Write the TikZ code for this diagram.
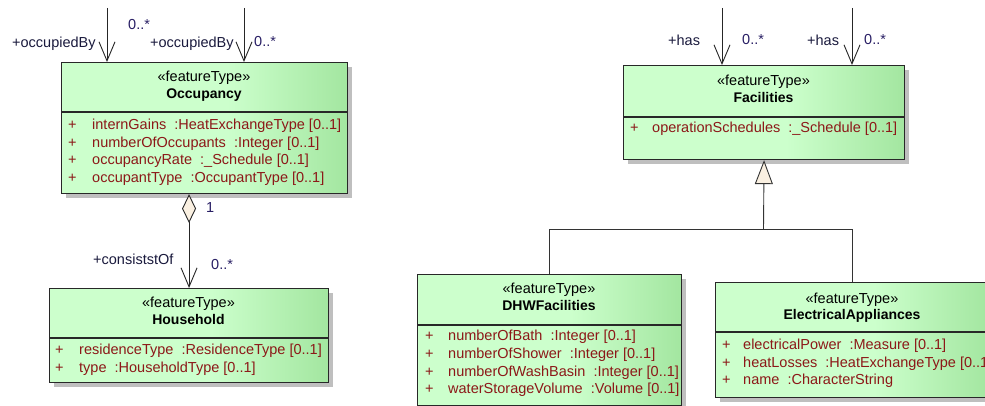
\documentclass[tikz,border=0pt]{standalone}
\usepackage{fontspec}
\setmainfont{Liberation Sans}
\usetikzlibrary{arrows.meta,shadows}
\definecolor{gA}{RGB}{204,255,204}
\definecolor{gB}{RGB}{163,230,160}
\definecolor{attrc}{RGB}{140,24,24}
\definecolor{lblc}{RGB}{25,25,60}
\definecolor{multc}{RGB}{40,30,100}
\definecolor{tipfill}{RGB}{250,240,225}
\definecolor{edgec}{RGB}{40,40,40}
\pgfdeclarehorizontalshading{boxgreen}{100bp}{color(0bp)=(gA); color(25bp)=(gA); color(54bp)=(gA); color(75bp)=(gB); color(100bp)=(gB)}
\begin{document}
\begin{tikzpicture}[x=1pt,y=-1pt,
  font=\fontsize{14.5}{17}\selectfont,
  cls/.style={draw=edgec, line width=1.1pt, shade, shading=boxgreen,
    drop shadow={shadow xshift=4pt, shadow yshift=-4pt, fill=black!25, opacity=1},
    anchor=north west, inner sep=0pt},
  divider/.style={draw=edgec, line width=1.1pt},
  stereo/.style={inner sep=0pt, anchor=mid},
  cname/.style={inner sep=0pt, anchor=mid, font=\fontsize{14}{16}\selectfont\bfseries},
  attr/.style={inner sep=0pt, anchor=mid west, text=attrc},
  role/.style={inner sep=0pt, anchor=mid west, text=lblc},
  mult/.style={inner sep=0pt, anchor=mid west, text=multc},
  assoc/.style={draw=black!85, line width=0.9pt, -{Straight Barb[length=19pt,width=16pt]}},
  agg/.style={draw=black!85, line width=0.9pt, {Diamond[length=29pt,width=14pt,fill=tipfill]}-{Straight Barb[length=19pt,width=16pt]}},
  gen/.style={draw=black!80, line width=0.9pt},
  genhead/.style={gen, -{Triangle[length=24pt,width=18pt,fill=tipfill]}}
]
\useasboundingbox (0,0) rectangle (985,406);
\clip (0,0) rectangle (985,406);

% ---------- Occupancy ----------
\node[cls, minimum width=286pt, minimum height=131pt] (occ) at (61,62) {};
\draw[divider] (occ.west |- 0,112) -- (occ.east |- 0,112);
\node[stereo] (occS) at (204,79) {«featureType»};
\node[cname] (occN) at (204,96) {Occupancy};
\node[attr] (occP1) at (68,127) {+};
\node[attr] (occA1) at (92,127) {internGains\ \ :HeatExchangeType [0..1]};
\node[attr] (occP2) at (68,144.5) {+};
\node[attr] (occA2) at (92,144.5) {numberOfOccupants\ \ :Integer [0..1]};
\node[attr] (occP3) at (68,162) {+};
\node[attr] (occA3) at (92,162) {occupancyRate\ \ :\_Schedule [0..1]};
\node[attr] (occP4) at (68,179.5) {+};
\node[attr] (occA4) at (92,179.5) {occupantType\ \ :OccupantType [0..1]};

% ---------- Household ----------
\node[cls, minimum width=279pt, minimum height=94pt] (hh) at (49,288) {};
\draw[divider] (hh.west |- 0,338) -- (hh.east |- 0,338);
\node[stereo] (hhS) at (188.5,305) {«featureType»};
\node[cname] (hhN) at (188.5,322) {Household};
\node[attr] (hhP1) at (55,352) {+};
\node[attr] (hhA1) at (79,352) {residenceType\ \ :ResidenceType [0..1]};
\node[attr] (hhP2) at (55,370) {+};
\node[attr] (hhA2) at (79,370) {type\ \ :HouseholdType [0..1]};

% ---------- Facilities ----------
\node[cls, minimum width=281pt, minimum height=94pt] (fac) at (623,65) {};
\draw[divider] (fac.west |- 0,117) -- (fac.east |- 0,117);
\node[stereo] (facS) at (763.5,83) {«featureType»};
\node[cname] (facN) at (763.5,100) {Facilities};
\node[attr] (facP1) at (630,130) {+};
\node[attr] (facA1) at (652,130) {operationSchedules\ \ :\_Schedule [0..1]};

% ---------- DHWFacilities ----------
\node[cls, minimum width=264pt, minimum height=131pt] (dhw) at (417,274) {};
\draw[divider] (dhw.west |- 0,325) -- (dhw.east |- 0,325);
\node[stereo] (dhwS) at (549,291) {«featureType»};
\node[cname] (dhwN) at (549,308) {DHWFacilities};
\node[attr] (dhwP1) at (425,338) {+};
\node[attr] (dhwA1) at (448,338) {numberOfBath\ \ :Integer [0..1]};
\node[attr] (dhwP2) at (425,356) {+};
\node[attr] (dhwA2) at (448,356) {numberOfShower\ \ :Integer [0..1]};
\node[attr] (dhwP3) at (425,373.5) {+};
\node[attr] (dhwA3) at (448,373.5) {numberOfWashBasin\ \ :Integer [0..1]};
\node[attr] (dhwP4) at (425,391) {+};
\node[attr] (dhwA4) at (448,391) {waterStorageVolume\ \ :Volume [0..1]};

% ---------- ElectricalAppliances ----------
\node[cls, minimum width=274pt, minimum height=115pt] (ea) at (715,282) {};
\draw[divider] (ea.west |- 0,332) -- (ea.east |- 0,332);
\node[stereo] (eaS) at (852,301) {«featureType»};
\node[cname] (eaN) at (852,317) {ElectricalAppliances};
\node[attr] (eaP1) at (722,347) {+};
\node[attr] (eaA1) at (743,347) {electricalPower\ \ :Measure [0..1]};
\node[attr] (eaP2) at (722,364.5) {+};
\node[attr] (eaA2) at (743,364.5) {heatLosses\ \ :HeatExchangeType [0..1]};
\node[attr] (eaP3) at (722,382) {+};
\node[attr] (eaA3) at (743,382) {name\ \ :CharacterString};

% ---------- associations into Occupancy ----------
\coordinate (occIn1) at (107,8);
\coordinate (occIn2) at (244,8);
\draw[assoc] (occIn1) -- (occIn1 |- occ.north);
\draw[assoc] (occIn2) -- (occIn2 |- occ.north);
\node[role] (occR1) at (12,45) {+occupiedBy};
\node[mult] (occM1) at (128,27) {0..*};
\node[role] (occR2) at (150,45) {+occupiedBy};
\node[mult] (occM2) at (254,44) {0..*};

% ---------- aggregation Occupancy - Household ----------
\draw[agg] (occ.south -| hh.north) -- (hh.north);
\node[mult] (aggM1) at (206,210) {1};
\node[role] (aggR2) at (93,262) {+consiststOf};
\node[mult] (aggM2) at (211,267) {0..*};

% ---------- associations into Facilities ----------
\coordinate (facIn1) at (722,8);
\coordinate (facIn2) at (852,8);
\draw[assoc] (facIn1) -- (facIn1 |- fac.north);
\draw[assoc] (facIn2) -- (facIn2 |- fac.north);
\node[role] (facR1) at (668,43) {+has};
\node[mult] (facM1) at (742,42) {0..*};
\node[role] (facR2) at (807,43) {+has};
\node[mult] (facM2) at (864,42) {0..*};

% ---------- generalization ----------
\coordinate (bus) at (763.5,229);
\draw[gen] (dhw.north) |- (bus);
\draw[gen] (ea.north) |- (bus);
\draw[genhead] (bus) -- (fac.south);
\end{tikzpicture}
\end{document}
